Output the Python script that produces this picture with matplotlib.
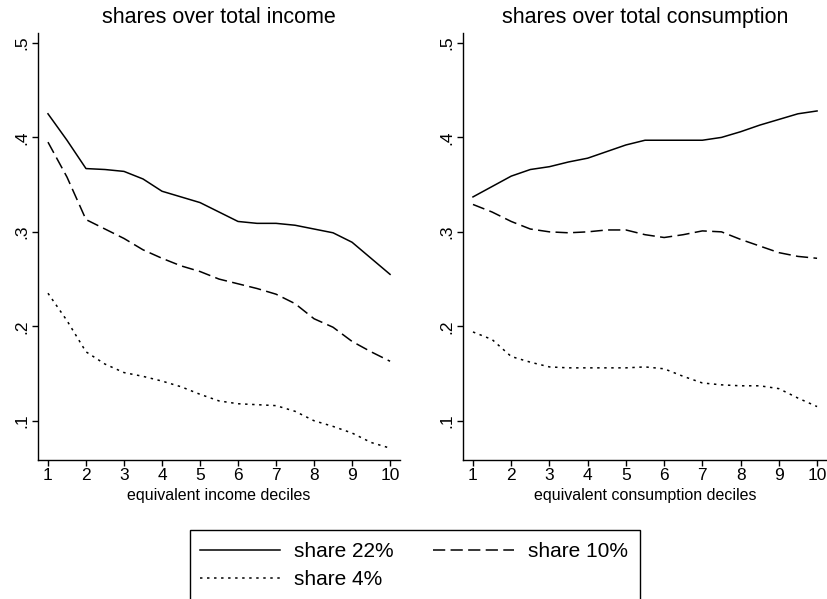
import numpy as np
import matplotlib.pyplot as plt
from matplotlib.patches import Rectangle

plt.rcParams['font.family'] = ['Liberation Sans', 'DejaVu Sans']

deciles = [1, 1.5, 2, 2.5, 3, 3.5, 4, 4.5, 5, 5.5, 6, 6.5, 7, 7.5, 8, 8.5, 9, 9.5, 10]

# shares over total income
inc_22 = [0.425, 0.397, 0.367, 0.366, 0.364, 0.356, 0.343, 0.337, 0.331, 0.321,
          0.311, 0.309, 0.309, 0.307, 0.303, 0.299, 0.289, 0.272, 0.255]
inc_10 = [0.395, 0.358, 0.313, 0.303, 0.293, 0.281, 0.272, 0.264, 0.258, 0.250,
          0.245, 0.240, 0.234, 0.224, 0.208, 0.199, 0.184, 0.173, 0.163]
inc_4 = [0.235, 0.206, 0.173, 0.160, 0.151, 0.147, 0.142, 0.136, 0.128, 0.121,
         0.118, 0.117, 0.116, 0.110, 0.100, 0.094, 0.087, 0.077, 0.071]

# shares over total consumption
con_22 = [0.337, 0.348, 0.359, 0.366, 0.369, 0.374, 0.378, 0.385, 0.392, 0.397,
          0.397, 0.397, 0.397, 0.400, 0.406, 0.413, 0.419, 0.425, 0.428]
con_10 = [0.329, 0.321, 0.311, 0.303, 0.300, 0.299, 0.300, 0.302, 0.302, 0.297,
          0.294, 0.297, 0.301, 0.300, 0.292, 0.285, 0.278, 0.274, 0.272]
con_4 = [0.194, 0.186, 0.168, 0.162, 0.157, 0.156, 0.156, 0.156, 0.156, 0.157,
         0.155, 0.147, 0.140, 0.138, 0.137, 0.137, 0.134, 0.124, 0.115]

yticks = [0.1, 0.2, 0.3, 0.4, 0.5]
ytick_labels = ['.1', '.2', '.3', '.4', '.5']
xticks = list(range(1, 11))

titles = ['shares over total income', 'shares over total consumption']
xlabels = ['equivalent income deciles', 'equivalent consumption deciles']
series = [(inc_22, inc_10, inc_4), (con_22, con_10, con_4)]

styles = [dict(ls='-'), dict(ls=(0, (8, 3.5))), dict(ls=(0, (1.6, 3)))]
labels = ['share 22%', 'share 10%', 'share 4%']

fig = plt.figure(figsize=(8.27, 5.99), dpi=100)
ax_rects = [[0.0456, 0.232, 0.438, 0.713], [0.5599, 0.232, 0.4401, 0.713]]
xlims = [(0.73, 10.26), (0.74, 10.26)]

handles = []
for i in range(2):
    ax = fig.add_axes(ax_rects[i])
    for vals, st, lab in zip(series[i], styles, labels):
        h, = ax.plot(deciles, vals, color='black', lw=1.1, label=lab, **st)
        if i == 0:
            handles.append(h)
    ax.set_xlim(*xlims[i])
    ax.set_ylim(0.0584, 0.5106)
    ax.set_yticks(yticks)
    ax.set_yticklabels(ytick_labels, rotation=90, va='center')
    ax.set_xticks(xticks)
    ax.tick_params(labelsize=12.5, length=4, width=1, direction='out', pad=2)
    ax.spines['top'].set_visible(False)
    ax.spines['right'].set_visible(False)
    for s in ['left', 'bottom']:
        ax.spines[s].set_linewidth(1.0)
    ax.set_title(titles[i], fontsize=15.5, pad=7)
    ax.set_xlabel(xlabels[i], fontsize=11.5, labelpad=3)

# legend box (runs off the bottom edge, as in the original)
box = Rectangle((190 / 827, -0.05), (640 - 190) / 827, (599 - 530) / 599 + 0.05,
                transform=fig.transFigure, fill=False, edgecolor='black', lw=1.0)
fig.patches.append(box)

order = [0, 2, 1]
fig.legend([handles[k] for k in order], [labels[k] for k in order], ncol=2,
           loc='upper left', bbox_to_anchor=(200 / 827, 1 - 542 / 599),
           fontsize=15, frameon=False, handlelength=3.85, handletextpad=0.67,
           columnspacing=1.9, borderpad=0, labelspacing=0.45, borderaxespad=0)

fig.savefig('out.png', dpi=100)
